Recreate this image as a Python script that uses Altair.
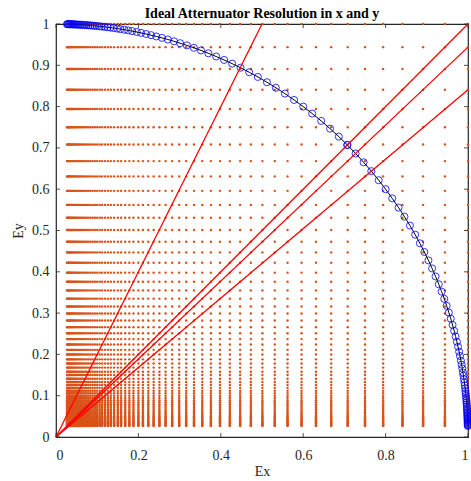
import altair as alt
import pandas as pd

levels = [1.000, 0.944, 0.891, 0.841, 0.794, 0.750, 0.708, 0.668, 0.631, 0.596,
          0.562, 0.531, 0.501, 0.473, 0.447, 0.422, 0.398, 0.376, 0.355, 0.335,
          0.316, 0.299, 0.282, 0.266, 0.251, 0.237, 0.224, 0.211, 0.200, 0.188,
          0.178, 0.168, 0.158, 0.150, 0.141, 0.133, 0.126, 0.119, 0.112, 0.106,
          0.100, 0.0944, 0.0891, 0.0841, 0.0794, 0.0750, 0.0708, 0.0668, 0.0631, 0.0596,
          0.0562, 0.0531, 0.0501, 0.0473, 0.0447, 0.0422, 0.0398, 0.0376, 0.0355, 0.0335,
          0.0316, 0.0299, 0.0282, 0.0266]

# circle markers (lower half; upper half is the same pairs swapped)
circ_x = [0.7071, 0.7272, 0.7466, 0.7653, 0.7832, 0.8000, 0.8161, 0.8315, 0.8457, 0.8590,
          0.8718, 0.8832, 0.8941, 0.9040, 0.9129, 0.9213, 0.9291, 0.9360, 0.9424, 0.9482,
          0.9535, 0.9581, 0.9625, 0.9664, 0.9699, 0.9730, 0.9758, 0.9785, 0.9806, 0.9828,
          0.9845, 0.9862, 0.9877, 0.9889, 0.9902, 0.9913, 0.9922, 0.9930, 0.9938, 0.9944,
          0.9950, 0.9956, 0.9961, 0.9965, 0.9969, 0.9972, 0.9975, 0.9978, 0.9980, 0.9982,
          0.9984, 0.9986, 0.9987, 0.9989, 0.9990, 0.9991, 0.9992, 0.9993, 0.9994, 0.9994,
          0.9995, 0.9996, 0.9996, 0.9996]
circ_y = [0.7071, 0.6865, 0.6652, 0.6437, 0.6218, 0.6000, 0.5778, 0.5555, 0.5336, 0.5120,
          0.4899, 0.4690, 0.4479, 0.4276, 0.4081, 0.3888, 0.3698, 0.3519, 0.3346, 0.3177,
          0.3013, 0.2865, 0.2714, 0.2571, 0.2434, 0.2306, 0.2186, 0.2065, 0.1961, 0.1848,
          0.1752, 0.1657, 0.1561, 0.1483, 0.1396, 0.1318, 0.1250, 0.1182, 0.1113, 0.1054,
          0.0995, 0.0940, 0.0887, 0.0838, 0.0792, 0.0748, 0.0706, 0.0667, 0.0630, 0.0595,
          0.0561, 0.0530, 0.0500, 0.0472, 0.0446, 0.0422, 0.0398, 0.0376, 0.0355, 0.0335,
          0.0316, 0.0299, 0.0282, 0.0266]

# red ray slopes (y/x)
slopes = [2.0, 1.0, 0.944, 0.841]

x_ticks = [0, 0.2, 0.4, 0.6, 0.8, 1]
y_ticks = [0, 0.1, 0.2, 0.3, 0.4, 0.5, 0.6, 0.7, 0.8, 0.9, 1]

W, H = 412, 413
FONT = "Liberation Serif"
AX = "#262626"

grid = pd.DataFrame([(a, b) for a in levels for b in levels], columns=["x", "y"])

n = len(circ_x)
circ = pd.DataFrame({
    "x": circ_x + circ_y,
    "y": circ_y + circ_x,
    "order": list(range(n, 0, -1)) + list(range(n + 1, 2 * n + 1)),
})
circ = circ.sort_values("order").reset_index(drop=True)

rays = pd.DataFrame({"slope": slopes})
rays["x0"] = 0.0
rays["y0"] = 0.0
rays["x1"] = [min(1.0, 1.0 / s) for s in slopes]
rays["y1"] = rays["x1"] * rays["slope"]

xs = alt.Scale(domain=[0, 1], nice=False)
ys = alt.Scale(domain=[0, 1], nice=False)

xaxis = alt.Axis(values=x_ticks, format="~g", ticks=False, tickSize=0, grid=False,
                 labelPadding=11, domain=False, title="Ex", titlePadding=2)
yaxis = alt.Axis(values=y_ticks, format="~g", ticks=False, tickSize=0, grid=False,
                 labelPadding=7, domain=False, title="Ey", titlePadding=6)

dots = alt.Chart(grid).mark_circle(size=6, color="#D95319", opacity=1).encode(
    x=alt.X("x:Q", scale=xs, axis=xaxis),
    y=alt.Y("y:Q", scale=ys, axis=yaxis),
)

arc_line = alt.Chart(circ).mark_line(color="black", strokeWidth=1).encode(
    x=alt.X("x:Q", scale=xs), y=alt.Y("y:Q", scale=ys), order="order:Q",
)

arc_pts = alt.Chart(circ).mark_point(shape="circle", filled=False, color="#0000FF",
                                     size=50, strokeWidth=0.8, opacity=1).encode(
    x=alt.X("x:Q", scale=xs), y=alt.Y("y:Q", scale=ys),
)

ray_marks = alt.Chart(rays).mark_rule(stroke="#FF0000", color="#FF0000", strokeWidth=1.3,
                                      opacity=1).encode(
    x=alt.X("x0:Q", scale=xs), y=alt.Y("y0:Q", scale=ys),
    x2="x1:Q", y2="y1:Q",
)

TL = 4
xt = pd.DataFrame({"t": x_ticks})
yt = pd.DataFrame({"t": y_ticks})
tick_b = alt.Chart(xt).mark_rule(color=AX, strokeWidth=0.8).encode(
    x=alt.X("t:Q", scale=xs), y=alt.value(H), y2=alt.value(H - TL))
tick_t = alt.Chart(xt).mark_rule(color=AX, strokeWidth=0.8).encode(
    x=alt.X("t:Q", scale=xs), y=alt.value(0), y2=alt.value(TL))
tick_l = alt.Chart(yt).mark_rule(color=AX, strokeWidth=0.8).encode(
    y=alt.Y("t:Q", scale=ys), x=alt.value(0), x2=alt.value(TL))
tick_r = alt.Chart(yt).mark_rule(color=AX, strokeWidth=0.8).encode(
    y=alt.Y("t:Q", scale=ys), x=alt.value(W), x2=alt.value(W - TL))

chart = alt.layer(dots, arc_line, arc_pts, ray_marks, tick_b, tick_t, tick_l, tick_r).properties(
    width=W, height=H,
    padding={"left": 56, "top": 24, "right": 3, "bottom": 44},
    autosize=alt.AutoSizeParams(type="none"),
    background="white",
    title=alt.Title("Ideal Atternuator Resolution in x and y", font=FONT, fontSize=14,
                    fontWeight="bold", color="black", anchor="middle", offset=-4),
).configure_view(stroke=AX, strokeWidth=1.2).configure_axis(
    labelFont=FONT, labelFontSize=14, labelColor=AX,
    titleFont=FONT, titleFontSize=14, titleColor=AX, titleFontWeight="normal",
)

chart.save("out.html", embed_options={"renderer": "svg", "actions": False})
